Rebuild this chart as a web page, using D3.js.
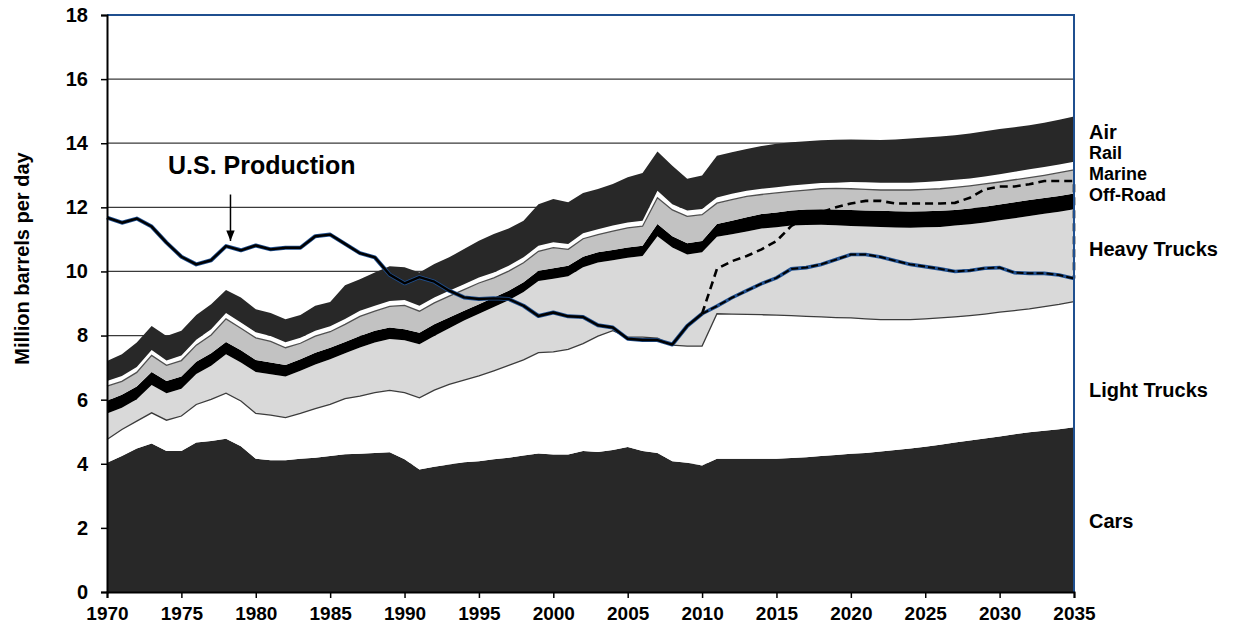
<!DOCTYPE html>
<html>
<head>
<meta charset="utf-8">
<script src="https://cdn.jsdelivr.net/npm/d3@7"></script>
<style>
  body { margin: 0; background: #fff; }
  text { font-family: Arial, "Liberation Sans", sans-serif; font-weight: bold; fill: #000; }
</style>
</head>
<body>
<div id="vis-holder"></div>
<script>
// Set margins and dimensions
const width = 1236;
const height = 632;
const margin = { top: 15, right: 162, bottom: 40, left: 107 };

// Years on the x axis
const years = d3.range(1970, 2036);
const histYears = d3.range(1970, 2011);
const projYears = d3.range(2010, 2036);

// Consumption by mode, million barrels per day (one value per year 1970-2035)
const cars = [
  4.03, 4.24, 4.48, 4.63, 4.40, 4.40, 4.66, 4.71, 4.78, 4.55,
  4.16, 4.11, 4.11, 4.16, 4.19, 4.24, 4.30, 4.31, 4.34, 4.36,
  4.14, 3.82, 3.91, 3.98, 4.05, 4.08, 4.14, 4.19, 4.26, 4.32,
  4.29, 4.29, 4.40, 4.37, 4.43, 4.52, 4.40, 4.34, 4.08, 4.03,
  3.95, 4.16, 4.16, 4.16, 4.16, 4.16, 4.18, 4.20, 4.24, 4.27,
  4.31, 4.34, 4.38, 4.43, 4.48, 4.53, 4.59, 4.66, 4.73, 4.79,
  4.85, 4.92, 4.98, 5.03, 5.08, 5.14];

const lightTrucks = [
  0.73, 0.83, 0.85, 0.96, 0.96, 1.09, 1.19, 1.30, 1.42, 1.41,
  1.41, 1.41, 1.33, 1.41, 1.53, 1.61, 1.73, 1.80, 1.88, 1.93,
  2.08, 2.24, 2.39, 2.50, 2.56, 2.66, 2.76, 2.88, 2.98, 3.15,
  3.20, 3.28, 3.35, 3.61, 3.72, 3.43, 3.55, 3.58, 3.62, 3.64,
  3.72, 4.52, 4.51, 4.50, 4.49, 4.48, 4.44, 4.40, 4.34, 4.29,
  4.24, 4.18, 4.12, 4.07, 4.02, 3.99, 3.96, 3.92, 3.89, 3.88,
  3.88, 3.86, 3.85, 3.87, 3.89, 3.92];

const heavyTrucks = [
  0.81, 0.68, 0.68, 0.87, 0.84, 0.85, 0.95, 1.05, 1.22, 1.20,
  1.29, 1.27, 1.28, 1.33, 1.38, 1.41, 1.42, 1.52, 1.56, 1.60,
  1.63, 1.67, 1.69, 1.75, 1.86, 1.94, 1.99, 2.03, 2.12, 2.23,
  2.28, 2.28, 2.38, 2.30, 2.20, 2.48, 2.53, 3.18, 3.05, 2.86,
  2.93, 2.40, 2.49, 2.59, 2.69, 2.74, 2.81, 2.85, 2.88, 2.88,
  2.87, 2.88, 2.89, 2.87, 2.86, 2.86, 2.84, 2.85, 2.85, 2.86,
  2.87, 2.88, 2.90, 2.90, 2.89, 2.88];

const offRoad = [
  0.40, 0.40, 0.40, 0.40, 0.38, 0.38, 0.38, 0.39, 0.38, 0.38,
  0.38, 0.37, 0.36, 0.36, 0.36, 0.36, 0.35, 0.36, 0.37, 0.36,
  0.35, 0.36, 0.36, 0.33, 0.30, 0.30, 0.30, 0.30, 0.30, 0.32,
  0.33, 0.33, 0.33, 0.32, 0.32, 0.32, 0.32, 0.38, 0.35, 0.35,
  0.35, 0.40, 0.42, 0.44, 0.45, 0.46, 0.47, 0.48, 0.48, 0.49,
  0.50, 0.50, 0.50, 0.51, 0.51, 0.50, 0.50, 0.49, 0.49, 0.49,
  0.49, 0.50, 0.50, 0.49, 0.49, 0.49];

const marine = [
  0.45, 0.42, 0.44, 0.52, 0.49, 0.50, 0.52, 0.57, 0.72, 0.69,
  0.69, 0.66, 0.54, 0.50, 0.52, 0.50, 0.55, 0.61, 0.61, 0.66,
  0.74, 0.67, 0.67, 0.67, 0.66, 0.66, 0.61, 0.61, 0.61, 0.61,
  0.64, 0.51, 0.56, 0.55, 0.59, 0.61, 0.61, 0.82, 0.82, 0.84,
  0.82, 0.65, 0.66, 0.65, 0.61, 0.61, 0.60, 0.61, 0.64, 0.66,
  0.66, 0.66, 0.65, 0.66, 0.67, 0.68, 0.69, 0.70, 0.71, 0.71,
  0.70, 0.70, 0.70, 0.71, 0.73, 0.74];

const rail = [
  0.16, 0.17, 0.17, 0.17, 0.15, 0.16, 0.17, 0.18, 0.18, 0.18,
  0.17, 0.17, 0.17, 0.17, 0.17, 0.17, 0.17, 0.17, 0.17, 0.17,
  0.17, 0.17, 0.17, 0.17, 0.17, 0.17, 0.17, 0.17, 0.17, 0.17,
  0.17, 0.17, 0.17, 0.17, 0.17, 0.17, 0.17, 0.22, 0.18, 0.18,
  0.18, 0.18, 0.18, 0.18, 0.18, 0.18, 0.18, 0.18, 0.18, 0.18,
  0.21, 0.22, 0.23, 0.23, 0.23, 0.23, 0.24, 0.24, 0.23, 0.23,
  0.24, 0.25, 0.26, 0.26, 0.26, 0.25];

const air = [
  0.63, 0.68, 0.76, 0.75, 0.77, 0.77, 0.77, 0.78, 0.72, 0.78,
  0.72, 0.71, 0.72, 0.71, 0.78, 0.76, 1.05, 0.99, 1.04, 1.08,
  1.02, 1.04, 1.04, 1.04, 1.10, 1.15, 1.20, 1.16, 1.14, 1.30,
  1.35, 1.30, 1.26, 1.25, 1.30, 1.41, 1.49, 1.22, 1.20, 0.99,
  1.04, 1.30, 1.30, 1.30, 1.33, 1.35, 1.35, 1.34, 1.33, 1.34,
  1.33, 1.33, 1.33, 1.35, 1.38, 1.39, 1.39, 1.39, 1.40, 1.41,
  1.41, 1.39, 1.37, 1.38, 1.39, 1.41];

// U.S. production, history 1970-2010
const prodHistory = [
  11.68, 11.52, 11.65, 11.40, 10.90, 10.46, 10.22, 10.35, 10.79, 10.66,
  10.81, 10.69, 10.74, 10.74, 11.10, 11.15, 10.86, 10.57, 10.44, 9.90,
  9.63, 9.82, 9.68, 9.40, 9.19, 9.14, 9.16, 9.14, 8.93, 8.61,
  8.72, 8.60, 8.58, 8.32, 8.25, 7.90, 7.86, 7.86, 7.72, 8.30,
  8.68];

// U.S. production projections 2010-2035 (solid and dashed cases)
const prodProjection = [
  8.68, 8.92, 9.18, 9.40, 9.62, 9.80, 10.08, 10.12, 10.22, 10.37,
  10.53, 10.53, 10.45, 10.33, 10.22, 10.15, 10.08, 10.00, 10.03, 10.10,
  10.12, 9.96, 9.94, 9.94, 9.89, 9.78];

const prodHigh = [
  8.68, 10.08, 10.32, 10.48, 10.69, 10.95, 11.42, 11.70, 11.85, 12.00,
  12.12, 12.20, 12.20, 12.12, 12.12, 12.12, 12.12, 12.14, 12.30, 12.56,
  12.65, 12.65, 12.72, 12.82, 12.82, 12.82];

// Layer names, labels, where each label sits (in y units) and its size
const keys = ["cars", "lightTrucks", "heavyTrucks", "offRoad", "marine", "rail", "air"];
const layerLabels = ["Cars", "Light Trucks", "Heavy Trucks", "Off-Road", "Marine", "Rail", "Air"];
const labelLevels = [2.0, 6.09, 10.47, 12.2, 12.86, 13.52, 14.12];
const labelSizes = [20, 20, 20, 18, 18, 18, 20];
const yTicks = [0, 2, 4, 6, 8, 10, 12, 14, 16, 18];
const xTicks = d3.range(1970, 2036, 5);

// Fill colors for each layer
const color = d3.scaleOrdinal()
                .domain(keys)
                .range(["#282828", "#ffffff", "#d9d9d9", "#000000", "#c2c2c2", "#ffffff", "#282828"]);

// Build the table d3.stack needs
const series = { cars, lightTrucks, heavyTrucks, offRoad, marine, rail, air };
const table = years.map((yr, i) => {
  const row = { year: yr };
  keys.forEach(k => row[k] = series[k][i]);
  return row;
});
const stacked = d3.stack().keys(keys)(table);

// Append svg object to the body of the page
const svg = d3.select("#vis-holder")
              .append("svg")
              .attr("width", width)
              .attr("height", height);

// Scales
const x = d3.scaleLinear()
            .domain([1970, 2035])
            .range([margin.left, width - margin.right]);

const y = d3.scaleLinear()
            .domain([0, 18])
            .range([height - margin.bottom, margin.top]);

// Horizontal grid lines (drawn first so areas cover them)
svg.append("g")
   .selectAll("line")
   .data(yTicks.filter(d => d > 0 && d < 18))
   .enter()
   .append("line")
     .attr("x1", x(1970))
     .attr("x2", x(2035))
     .attr("y1", d => y(d))
     .attr("y2", d => y(d))
     .attr("stroke", "#3a3a3a")
     .attr("stroke-width", 1.2);

// Stacked areas
const area = d3.area()
               .x(d => x(d.data.year))
               .y0(d => y(d[0]))
               .y1(d => y(d[1]));

svg.append("g")
   .selectAll("path")
   .data(stacked)
   .enter()
   .append("path")
     .attr("d", area)
     .attr("fill", d => color(d.key));

// Thin outlines on the lower edge of heavy trucks and the top of marine
const edge = d3.line()
               .x(d => x(d.data.year))
               .y(d => y(d[1]));

svg.append("path")
   .attr("d", edge(stacked[1]))
   .attr("fill", "none")
   .attr("stroke", "#3c3c3c")
   .attr("stroke-width", 1.3);

svg.append("path")
   .attr("d", edge(stacked[4]))
   .attr("fill", "none")
   .attr("stroke", "#505050")
   .attr("stroke-width", 1.3);

// Production lines
const prodLine = d3.line()
                   .x(d => x(d[0]))
                   .y(d => y(d[1]));

const hist = histYears.map((yr, i) => [yr, prodHistory[i]]);
const proj = projYears.map((yr, i) => [yr, prodProjection[i]]);
const high = projYears.map((yr, i) => [yr, prodHigh[i]]);

// History: dark line with a blue rim
svg.append("path")
   .attr("d", prodLine(hist))
   .attr("fill", "none")
   .attr("stroke", "#1f4f8f")
   .attr("stroke-width", 4)
   .attr("stroke-linejoin", "round");

svg.append("path")
   .attr("d", prodLine(hist))
   .attr("fill", "none")
   .attr("stroke", "#000")
   .attr("stroke-width", 2.4)
   .attr("stroke-linejoin", "round");

// Projection: blue line with black dashes over it
svg.append("path")
   .attr("d", prodLine(proj))
   .attr("fill", "none")
   .attr("stroke", "#1f4f8f")
   .attr("stroke-width", 3.6);

svg.append("path")
   .attr("d", prodLine(proj))
   .attr("fill", "none")
   .attr("stroke", "#000")
   .attr("stroke-width", 2)
   .attr("stroke-dasharray", "7,3");

// High case: black dashed line, dropping to the base case at the right edge
const lastYear = projYears[projYears.length - 1];
const highPath = high.concat([[lastYear, prodProjection[prodProjection.length - 1]]]);

svg.append("path")
   .attr("d", prodLine(highPath))
   .attr("fill", "none")
   .attr("stroke", "#000")
   .attr("stroke-width", 2.6)
   .attr("stroke-dasharray", "8,5");

// Frame: blue top and right border
svg.append("path")
   .attr("d", `M${x(1970)},${y(18)}H${x(2035)}V${y(0)}`)
   .attr("fill", "none")
   .attr("stroke", "#1f4f8f")
   .attr("stroke-width", 2);

// Add y axis
svg.append("g")
   .attr("transform", `translate(${margin.left}, 0)`)
   .call(d3.axisLeft(y).tickValues(yTicks).tickSize(6).tickPadding(13))
   .call(g => g.select(".domain").attr("stroke", "#000").attr("stroke-width", 2))
   .call(g => g.selectAll(".tick line").attr("stroke", "#000").attr("stroke-width", 1.5))
   .call(g => g.selectAll(".tick text").attr("font-size", "20px").attr("font-family", "Arial, 'Liberation Sans', sans-serif").attr("font-weight", "bold"));

// Add x axis
svg.append("g")
   .attr("transform", `translate(0,${height - margin.bottom})`)
   .call(d3.axisBottom(x).tickValues(xTicks).tickFormat(d3.format("d")).tickSize(6).tickPadding(9))
   .call(g => g.select(".domain").attr("stroke", "#000").attr("stroke-width", 2))
   .call(g => g.selectAll(".tick line").attr("stroke", "#000").attr("stroke-width", 1.5))
   .call(g => g.selectAll(".tick text").attr("font-size", "19px").attr("font-family", "Arial, 'Liberation Sans', sans-serif").attr("font-weight", "bold"));

// Y axis title
svg.append("text")
   .attr("transform", `translate(29, ${(y(18) + y(0)) / 2 - 45}) rotate(-90)`)
   .attr("text-anchor", "middle")
   .attr("font-size", "20px")
   .text("Million barrels per day");

// Layer labels to the right of the plot
svg.append("g")
   .selectAll("text")
   .data(layerLabels)
   .enter()
   .append("text")
     .attr("x", x(2035) + 15)
     .attr("y", (d, i) => y(labelLevels[i]))
     .attr("font-size", (d, i) => labelSizes[i] + "px")
     .text(d => d);

// U.S. Production annotation with arrow
svg.append("text")
   .attr("x", x(1974.1))
   .attr("y", y(13.03))
   .attr("font-size", "25px")
   .text("U.S. Production");

svg.append("defs")
   .append("marker")
     .attr("id", "arrow")
     .attr("viewBox", "0 0 10 10")
     .attr("refX", 10)
     .attr("refY", 5)
     .attr("markerWidth", 7)
     .attr("markerHeight", 7)
     .attr("orient", "auto")
   .append("path")
     .attr("d", "M0,1L10,5L0,9Z")
     .attr("fill", "#000");

svg.append("line")
   .attr("x1", x(1978.3))
   .attr("x2", x(1978.3))
   .attr("y1", y(12.4))
   .attr("y2", y(10.95))
   .attr("stroke", "#000")
   .attr("stroke-width", 1.5)
   .attr("marker-end", "url(#arrow)");
</script>
</body>
</html>
